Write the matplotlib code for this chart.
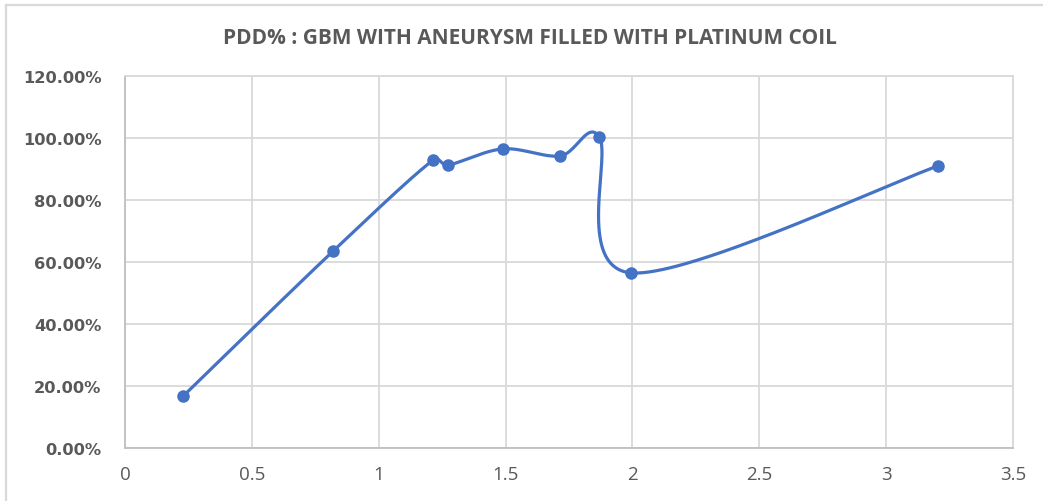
import numpy as np
import matplotlib
matplotlib.use("Agg")
import matplotlib.pyplot as plt
from matplotlib import font_manager
from matplotlib.lines import Line2D

# ---- data ----
x_vals = [0.23, 0.82, 1.215, 1.275, 1.49, 1.715, 1.87, 1.995, 3.205]
y_vals = [0.168, 0.635, 0.929, 0.913, 0.965, 0.942, 1.002, 0.565, 0.910]
x_ticks = [0, 0.5, 1, 1.5, 2, 2.5, 3, 3.5]
x_tick_labels = ["0", "0.5", "1", "1.5", "2", "2.5", "3", "3.5"]
y_ticks = [0, 0.2, 0.4, 0.6, 0.8, 1.0, 1.2]
y_tick_labels = ["0.00%", "20.00%", "40.00%", "60.00%", "80.00%", "100.00%", "120.00%"]
title = "PDD% : GBM WITH ANEURYSM FILLED WITH PLATINUM COIL"

available = {f.name for f in font_manager.fontManager.ttflist}
def pick(*names):
    for n in names:
        if n in available:
            return n
    return "DejaVu Sans"
narrow = pick("Liberation Sans Narrow", "Open Sans", "Roboto")

LINE = "#4472C4"
GRID = "#D9D9D9"
TXT = "#595959"

fig = plt.figure(figsize=(10.43, 5.02), dpi=100)
fig.patch.set_facecolor("white")
# outer chart border (top and left visible)
fig.add_artist(Line2D([5.5/1043, 5.5/1043], [0, 1 - 5.5/502], transform=fig.transFigure,
                      color=GRID, lw=1.6))
fig.add_artist(Line2D([5.5/1043, 1], [1 - 5.5/502, 1 - 5.5/502], transform=fig.transFigure,
                      color=GRID, lw=1.6))

ax = fig.add_axes([125/1043, 1 - 449/502, 888/1043, 372/502])
ax.set_xlim(0, 3.5)
ax.set_ylim(0, 1.2)
ax.set_xticks(x_ticks)
ax.set_xticklabels(x_tick_labels)
ax.set_yticks(y_ticks)
ax.set_yticklabels(y_tick_labels)
ax.grid(True, color=GRID, lw=1.3)
ax.set_axisbelow(True)
for s in ["top", "right"]:
    ax.spines[s].set_color(GRID)
    ax.spines[s].set_linewidth(1.3)
for s in ["left", "bottom"]:
    ax.spines[s].set_color("#BFBFBF")
    ax.spines[s].set_linewidth(1.3)
ax.tick_params(axis="both", length=0)
ax.tick_params(axis="y", pad=17, labelcolor=TXT)
ax.tick_params(axis="x", pad=12, labelcolor=TXT)
for lab in ax.get_yticklabels():
    lab.set_fontfamily("DejaVu Sans")
    lab.set_fontweight("bold")
    lab.set_fontsize(11.7)
for lab in ax.get_xticklabels():
    lab.set_fontfamily(narrow)
    lab.set_fontsize(13.5)

# ---- Excel-like smoothed line computed in display space ----
P = ax.transData.transform(np.column_stack([x_vals, y_vals]))
n = len(P)
curve = []
for i in range(n - 1):
    p0 = P[i - 1] if i > 0 else P[i]
    p1 = P[i]
    p2 = P[i + 1]
    p3 = P[i + 2] if i + 2 < n else P[i + 1]
    d02 = np.linalg.norm(p2 - p0)
    d12 = np.linalg.norm(p2 - p1)
    d13 = np.linalg.norm(p3 - p1)
    f1 = 1/6 if d02/6 < d12/2 else (d12/2/d02 if d02 > 0 else 0)
    f2 = 1/6 if d13/6 < d12/2 else (d12/2/d13 if d13 > 0 else 0)
    b1 = p1 + (p2 - p0) * f1
    b2 = p2 - (p3 - p1) * f2
    t = np.linspace(0, 1, 80)[:, None]
    seg = ((1-t)**3)*p1 + 3*((1-t)**2)*t*b1 + 3*(1-t)*(t**2)*b2 + (t**3)*p2
    curve.append(seg if i == 0 else seg[1:])
curve = np.vstack(curve)
C = ax.transData.inverted().transform(curve)
ax.plot(C[:, 0], C[:, 1], color=LINE, lw=2.3, solid_capstyle="round", zorder=3)
ax.plot(x_vals, y_vals, "o", color=LINE, ms=8, zorder=4)

fig.text(530/1043, 1 - 38/502, title, ha="center", va="center", fontsize=15,
         fontweight="bold", color=TXT, family=narrow)

fig.savefig("out.png", dpi=100)
